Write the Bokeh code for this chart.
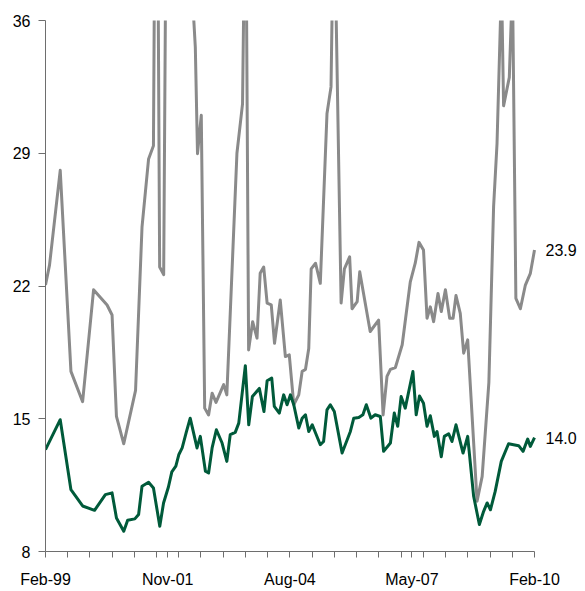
from datetime import date
from bokeh.plotting import figure
from bokeh.models import Range1d, FixedTicker
from bokeh.core.properties import value
from bokeh.embed import file_html
from bokeh.resources import INLINE

# ---------------- data ----------------
green_dates = [
    "1999-02-01", "1999-06-02", "1999-08-29", "1999-12-03", "2000-03-10", "2000-06-07",
    "2000-08-01", "2000-09-06", "2000-11-05", "2000-12-07", "2001-02-04", "2001-03-07",
    "2001-04-04", "2001-05-28", "2001-07-07", "2001-08-28", "2001-09-28", "2001-11-07",
    "2001-12-05", "2002-01-07", "2002-01-31", "2002-02-28", "2002-04-03", "2002-05-05",
    "2002-06-30", "2002-07-27", "2002-09-07", "2002-10-03", "2002-11-01", "2002-12-06",
    "2003-01-22", "2003-03-02", "2003-03-30", "2003-05-10", "2003-06-08", "2003-08-01",
    "2003-08-29", "2003-09-28", "2003-11-24", "2004-01-01", "2004-01-27", "2004-03-05",
    "2004-03-26", "2004-05-06", "2004-06-11", "2004-07-09", "2004-08-05", "2004-09-02",
    "2004-10-13", "2004-11-10", "2004-12-07", "2005-01-03", "2005-02-01", "2005-02-28",
    "2005-04-08", "2005-05-05", "2005-06-02", "2005-06-29", "2005-08-01", "2005-10-04",
    "2005-12-11", "2006-01-08", "2006-02-18", "2006-03-24", "2006-04-21", "2006-05-29",
    "2006-07-03", "2006-08-14", "2006-09-10", "2006-11-05", "2006-12-07", "2007-01-04",
    "2007-02-01", "2007-03-07", "2007-05-09", "2007-06-05", "2007-07-02", "2007-08-04",
    "2007-09-02", "2007-09-29", "2007-11-01", "2007-11-23", "2007-12-28", "2008-01-22",
    "2008-02-27", "2008-03-25", "2008-04-27", "2008-06-24", "2008-08-01", "2008-09-19",
    "2008-11-05", "2008-12-10", "2009-01-08", "2009-02-04", "2009-03-15", "2009-05-04",
    "2009-07-03", "2009-08-13", "2009-09-24", "2009-10-30", "2009-12-07", "2009-12-29",
    "2010-02-01",
]
green_values = [
    13.37, 14.95, 11.26, 10.40, 10.17, 11.00,
    11.09, 9.77, 9.07, 9.65, 9.72, 9.95,
    11.44, 11.65, 11.35, 9.33, 10.56, 11.40,
    12.20, 12.50, 13.10, 13.46, 14.30, 15.03,
    13.46, 14.07, 12.23, 12.14, 13.46, 14.42,
    13.72, 12.75, 14.16, 14.28, 14.77, 17.80,
    14.68, 16.17, 16.60, 15.38, 17.00, 17.14,
    15.65, 15.30, 16.26, 15.74, 16.26, 15.74,
    14.51, 15.03, 15.21, 14.33, 14.68, 14.25,
    13.63, 13.80, 15.47, 15.74, 15.38, 13.19,
    14.33, 15.03, 15.07, 15.21, 15.74, 15.03,
    15.21, 15.12, 13.28, 13.72, 15.30, 14.60,
    16.17, 15.56, 17.49, 15.21, 16.20, 15.82,
    14.60, 15.16, 14.07, 14.33, 13.00, 14.07,
    14.21, 13.80, 14.68, 13.19, 14.07, 10.91,
    9.42, 10.12, 10.56, 10.20, 11.17, 12.75,
    13.68, 13.63, 13.58, 13.28, 13.93, 13.54,
    14.00,
]

gray_dates = [
    "1999-02-01", "1999-03-06", "1999-06-02", "1999-08-29", "1999-12-03", "2000-03-02",
    "2000-06-21", "2000-08-01", "2000-09-06", "2000-11-05", "2001-02-10", "2001-04-04",
    "2001-05-28", "2001-07-07", "2001-07-31", "2001-08-27", "2001-09-29", "2001-10-29",
    "2002-05-17", "2002-06-16", "2002-07-04", "2002-08-04", "2002-09-01", "2002-10-03",
    "2002-11-01", "2002-12-03", "2003-02-04", "2003-03-02", "2003-05-24", "2003-07-09",
    "2003-08-03", "2003-08-28", "2003-09-30", "2003-11-05", "2003-12-01", "2003-12-30",
    "2004-01-27", "2004-03-01", "2004-03-28", "2004-05-14", "2004-06-25", "2004-07-27",
    "2004-09-02", "2004-10-13", "2004-11-10", "2004-12-07", "2005-01-03", "2005-01-23",
    "2005-02-28", "2005-04-08", "2005-06-02", "2005-07-05", "2005-07-29", "2005-09-26",
    "2005-10-23", "2005-12-05", "2005-12-25", "2006-02-05", "2006-02-26", "2006-05-23",
    "2006-07-31", "2006-09-06", "2006-10-08", "2006-11-05", "2006-12-16", "2007-02-10",
    "2007-04-17", "2007-05-28", "2007-06-28", "2007-08-04", "2007-09-02", "2007-09-29",
    "2007-10-26", "2007-12-01", "2007-12-28", "2008-01-31", "2008-03-06", "2008-04-03",
    "2008-04-27", "2008-06-01", "2008-06-29", "2008-08-01", "2008-10-17", "2008-11-28",
    "2009-01-22", "2009-03-02", "2009-03-30", "2009-05-06", "2009-05-23", "2009-07-09",
    "2009-08-04", "2009-09-01", "2009-10-08", "2009-11-18", "2009-12-29", "2010-02-01",
]
gray_values = [
    22.05, 23.10, 28.10, 17.50, 15.90, 21.80,
    21.00, 20.47, 15.12, 13.68, 16.50, 25.10,
    28.70, 29.40, 55.00, 23.00, 22.60, 52.00,
    38.00, 34.60, 28.98, 31.00, 15.56, 15.20,
    16.35, 15.86, 16.80, 16.26, 29.00, 31.60,
    45.00, 18.63, 20.12, 19.25, 22.67, 23.00,
    21.10, 21.00, 18.98, 21.26, 18.28, 18.37,
    15.74, 16.26, 17.50, 17.60, 18.70, 22.90,
    23.20, 22.14, 31.10, 32.50, 43.00, 21.10,
    22.90, 23.54, 20.80, 21.17, 22.75, 19.60,
    20.20, 15.20, 17.23, 17.60, 17.70, 18.90,
    22.20, 23.20, 24.30, 23.90, 20.30, 20.90,
    20.12, 21.60, 20.65, 21.80, 20.30, 20.30,
    21.50, 20.56, 18.46, 19.16, 10.65, 11.96,
    16.90, 26.20, 29.50, 38.00, 31.50, 33.00,
    38.00, 21.35, 20.80, 22.05, 22.67, 23.90,
]

tick_dates = [
    "1999-02-01", "1999-08-01", "2000-02-01", "2000-08-01", "2001-02-01", "2001-08-01",
    "2001-11-01", "2002-02-01", "2002-08-01", "2003-02-01", "2003-08-01", "2004-02-01",
    "2004-08-01", "2005-02-01", "2005-08-01", "2006-02-01", "2006-08-01", "2007-02-01",
    "2007-05-01", "2007-08-01", "2008-02-01", "2008-08-01", "2009-02-01", "2009-08-01",
    "2010-02-01",
]
label_dates = ["1999-02-01", "2001-11-01", "2004-08-01", "2007-05-01", "2010-02-01"]
label_texts = ["Feb-99", "Nov-01", "Aug-04", "May-07", "Feb-10"]
y_ticks = [8, 15, 22, 29, 36]

# ---------------- helpers ----------------
ORIGIN = date(1999, 2, 1)


def to_days(s):
    y, m, d = (int(v) for v in s.split("-"))
    return (date(y, m, d) - ORIGIN).days


gx = [to_days(s) for s in green_dates]
ax = [to_days(s) for s in gray_dates]
ticks = [to_days(s) for s in tick_dates]
overrides = {t: "" for t in ticks}
for s, t in zip(label_dates, label_texts):
    overrides[to_days(s)] = t

FONT = "Liberation Sans"
GREEN = "#005a3a"
GRAY = "#8a8a8a"
AXIS = "#6e6e6e"

W, H = 585, 591
LEFT, TOP, BOTTOM, RIGHT = 45, 20, 40, 2
x0, x1 = to_days(label_dates[0]), to_days(label_dates[-1])
axis_px = 489                       # pixel length of the dated part of the axis
frame_px = W - LEFT - RIGHT
x_end = x0 + (x1 - x0) * frame_px / axis_px   # extra room for the end labels

p = figure(
    width=W, height=H,
    output_backend="svg", toolbar_location=None,
    x_range=Range1d(x0, x_end),
    y_range=Range1d(y_ticks[0], y_ticks[-1]),
    min_border_left=LEFT, min_border_right=RIGHT,
    min_border_top=TOP, min_border_bottom=BOTTOM,
)
p.outline_line_color = None
p.xgrid.visible = False
p.ygrid.visible = False
p.background_fill_color = "white"
p.border_fill_color = "white"

p.line(ax, gray_values, line_color=GRAY, line_width=3, line_join="round")
p.line(gx, green_values, line_color=GREEN, line_width=3, line_join="round")

# axes
p.xaxis.ticker = FixedTicker(ticks=ticks)
p.xaxis.major_label_overrides = overrides
p.xaxis.bounds = (x0, x1)
p.yaxis.ticker = FixedTicker(ticks=y_ticks)
for axis in (p.xaxis[0], p.yaxis[0]):
    axis.axis_line_color = AXIS
    axis.axis_line_width = 1
    axis.major_tick_line_color = AXIS
    axis.major_tick_in = 0
    axis.minor_tick_line_color = None
    axis.major_label_text_font = FONT
    axis.major_label_text_font_size = "16px"
    axis.major_label_text_color = "black"
p.xaxis.major_tick_out = 6
p.xaxis.major_label_standoff = 13
p.yaxis.major_tick_out = 7
p.yaxis.major_label_standoff = 8

# end-of-series labels
end_x = [ax[-1], gx[-1]]
end_y = [gray_values[-1], green_values[-1]]
end_txt = [f"{v:.1f}" for v in end_y]
p.text(end_x, end_y, text=end_txt, x_offset=11,
       text_baseline="middle", text_align="left",
       text_font=value(FONT), text_font_size="16px", text_color="black")

open("out.html", "w").write(file_html(p, INLINE))
